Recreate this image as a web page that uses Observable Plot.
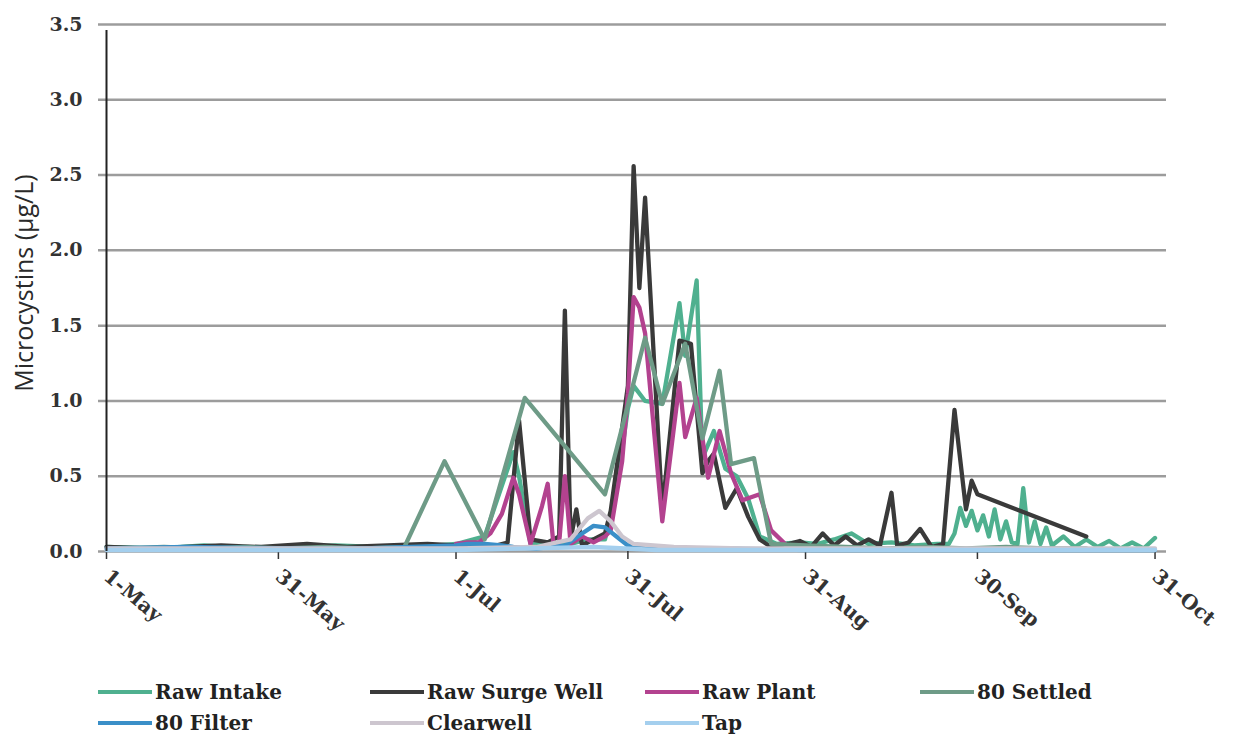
<!DOCTYPE html>
<html>
<head>
<meta charset="utf-8">
<script src="https://cdn.jsdelivr.net/npm/d3@7"></script>
<script src="https://cdn.jsdelivr.net/npm/@observablehq/plot@0.6"></script>
<style>
  body { margin: 0; background: #fff; }
  #wrap { position: relative; width: 1233px; height: 740px; overflow: hidden; }
  .legend {
    position: absolute; left: 98px; top: 676px;
    display: grid; grid-template-columns: 272px 275px 275px 275px;
    font-family: "DejaVu Serif", serif; font-size: 20px; font-weight: bold; color: #222;
  }
  .item { display: flex; align-items: center; height: 31px; white-space: nowrap; }
  .sw { width: 54px; height: 4px; margin-right: 3px; }
</style>
</head>
<body>
<div id="wrap"></div>
<script>
// Microcystin concentrations (µg/L) by sampling point, May–October
const year = 2014;
const seriesNames = ["Raw Intake", "Raw Surge Well", "Raw Plant", "80 Settled", "80 Filter", "Clearwell", "Tap"];
const seriesColors = ["#4fb08f", "#3a3a3a", "#b3428f", "#6e9b87", "#3a8fc8", "#cdc6cf", "#a4cfee"];

const rawIntake = [
  ["05-01", 0.03], ["05-10", 0.02], ["05-18", 0.04], ["05-26", 0.02], ["06-03", 0.03], ["06-10", 0.04],
  ["06-17", 0.03], ["06-24", 0.03], ["07-01", 0.05], ["07-06", 0.1], ["07-11", 0.66], ["07-12", 0.5],
  ["07-14", 0.05], ["07-17", 0.06], ["07-21", 0.05], ["07-24", 0.08], ["07-27", 0.08], ["07-29", 0.4],
  ["07-31", 0.95], ["08-01", 1.1], ["08-03", 1.0], ["08-06", 0.98], ["08-09", 1.65], ["08-10", 1.3],
  ["08-12", 1.8], ["08-13", 0.62], ["08-15", 0.8], ["08-17", 0.55], ["08-19", 0.5], ["08-21", 0.35],
  ["08-23", 0.1], ["08-26", 0.05], ["08-30", 0.06], ["09-02", 0.05], ["09-05", 0.08], ["09-08", 0.12],
  ["09-11", 0.05], ["09-15", 0.06], ["09-19", 0.04], ["09-23", 0.05], ["09-25", 0.05], ["09-26", 0.12],
  ["09-27", 0.29], ["09-28", 0.17], ["09-29", 0.27], ["09-30", 0.14], ["10-01", 0.24], ["10-02", 0.1],
  ["10-03", 0.28], ["10-04", 0.08], ["10-05", 0.2], ["10-06", 0.06], ["10-07", 0.05], ["10-08", 0.42],
  ["10-09", 0.06], ["10-10", 0.2], ["10-11", 0.05], ["10-12", 0.16], ["10-13", 0.04], ["10-15", 0.1],
  ["10-17", 0.03], ["10-19", 0.08], ["10-21", 0.03], ["10-23", 0.07], ["10-25", 0.02], ["10-27", 0.06],
  ["10-29", 0.02], ["10-31", 0.09]
];

const rawSurgeWell = [
  ["05-01", 0.03], ["05-08", 0.02], ["05-15", 0.03], ["05-21", 0.04], ["05-28", 0.03], ["06-05", 0.05],
  ["06-12", 0.03], ["06-19", 0.04], ["06-26", 0.05], ["07-01", 0.04], ["07-05", 0.03], ["07-08", 0.04],
  ["07-10", 0.06], ["07-12", 0.87], ["07-14", 0.08], ["07-17", 0.06], ["07-19", 0.1], ["07-20", 1.6],
  ["07-21", 0.08], ["07-22", 0.28], ["07-23", 0.04], ["07-25", 0.08], ["07-27", 0.12], ["07-28", 0.27],
  ["07-31", 1.1], ["08-01", 2.56], ["08-02", 1.75], ["08-03", 2.35], ["08-06", 0.27], ["08-09", 1.4],
  ["08-11", 1.38], ["08-13", 0.52], ["08-14", 0.6], ["08-15", 0.65], ["08-17", 0.29], ["08-19", 0.42],
  ["08-21", 0.23], ["08-23", 0.08], ["08-25", 0.03], ["08-28", 0.05], ["08-30", 0.07], ["09-01", 0.03],
  ["09-03", 0.12], ["09-05", 0.04], ["09-07", 0.1], ["09-09", 0.04], ["09-11", 0.08], ["09-13", 0.04],
  ["09-15", 0.39], ["09-16", 0.04], ["09-18", 0.06], ["09-20", 0.15], ["09-22", 0.03], ["09-24", 0.05],
  ["09-26", 0.94], ["09-28", 0.28], ["09-29", 0.47], ["09-30", 0.38], ["10-19", 0.1]
];

const rawPlant = [
  ["07-01", 0.05], ["07-03", 0.06], ["07-05", 0.06], ["07-07", 0.12], ["07-09", 0.25], ["07-11", 0.49],
  ["07-12", 0.38], ["07-14", 0.05], ["07-16", 0.3], ["07-17", 0.45], ["07-18", 0.05], ["07-19", 0.06],
  ["07-20", 0.5], ["07-21", 0.05], ["07-23", 0.1], ["07-25", 0.06], ["07-27", 0.1], ["07-28", 0.14],
  ["07-30", 0.6], ["07-31", 1.05], ["08-01", 1.69], ["08-02", 1.62], ["08-03", 1.45], ["08-06", 0.2],
  ["08-09", 1.12], ["08-10", 0.76], ["08-12", 1.02], ["08-14", 0.49], ["08-16", 0.8], ["08-18", 0.52],
  ["08-20", 0.34], ["08-23", 0.38], ["08-25", 0.14], ["08-28", 0.03], ["09-01", 0.02]
];

const settled80 = [
  ["05-04", 0.02], ["05-11", 0.03], ["05-18", 0.02], ["05-25", 0.03], ["06-01", 0.02], ["06-08", 0.03],
  ["06-15", 0.02], ["06-22", 0.03], ["06-29", 0.6], ["07-06", 0.08], ["07-13", 1.02], ["07-27", 0.38],
  ["08-03", 1.42], ["08-06", 0.98], ["08-10", 1.38], ["08-13", 0.75], ["08-16", 1.2], ["08-18", 0.58],
  ["08-22", 0.62], ["08-25", 0.05], ["08-31", 0.04], ["09-07", 0.03], ["09-14", 0.02], ["09-21", 0.03],
  ["09-28", 0.02], ["10-05", 0.03], ["10-12", 0.02], ["10-19", 0.02]
];

const filter80 = [
  ["05-01", 0.02], ["05-15", 0.03], ["06-01", 0.02], ["06-15", 0.02], ["07-01", 0.04], ["07-03", 0.05],
  ["07-06", 0.05], ["07-09", 0.04], ["07-11", 0.03], ["07-15", 0.02], ["07-20", 0.04], ["07-23", 0.12],
  ["07-25", 0.17], ["07-27", 0.16], ["07-29", 0.1], ["07-31", 0.04], ["08-05", 0.02], ["08-15", 0.02],
  ["09-01", 0.01], ["10-31", 0.01]
];

const clearwell = [
  ["05-01", 0.02], ["06-01", 0.02], ["07-01", 0.02], ["07-15", 0.03], ["07-21", 0.08], ["07-24", 0.22],
  ["07-26", 0.27], ["07-28", 0.2], ["07-30", 0.1], ["08-01", 0.05], ["08-08", 0.03], ["08-20", 0.02],
  ["09-15", 0.02], ["10-31", 0.02]
];

const tap = [
  ["05-01", 0.01], ["06-01", 0.01], ["07-01", 0.01], ["07-25", 0.03], ["08-05", 0.01], ["10-31", 0.01]
];

const yTicks = [0, 0.5, 1.0, 1.5, 2.0, 2.5, 3.0, 3.5];
const xTickLabels = ["05-01", "05-31", "07-01", "07-31", "08-31", "09-30", "10-31"];
const yLabel = "Microcystins (µg/L)";

const parse = d3.utcParse("%Y-%m-%d");
const toDate = (s) => parse(`${year}-${s}`);
const seriesValues = [rawIntake, rawSurgeWell, rawPlant, settled80, filter80, clearwell, tap];
const rows = seriesValues.map((arr, i) => arr.map(([d, v]) => ({series: seriesNames[i], date: toDate(d), value: v})));
const xTicks = xTickLabels.map(toDate);
const xStart = toDate("05-01");
const xEnd = toDate("11-02");

const serif = "'DejaVu Serif', serif";

const chart = Plot.plot({
  width: 1233,
  height: 660,
  marginLeft: 106,
  marginRight: 67,
  marginTop: 24,
  marginBottom: 109,
  style: {fontFamily: serif, background: "#fff"},
  x: {type: "utc", domain: [xStart, xEnd]},
  y: {domain: [0, 3.5]},
  color: {domain: seriesNames, range: seriesColors},
  marks: [
    Plot.ruleY(yTicks, {stroke: "#9c9c9c", strokeWidth: 2.5, insetLeft: -8}),
    Plot.axisY({ticks: yTicks, tickSize: 0, tickPadding: 24, tickFormat: d3.format(".1f"),
      fill: "#333", fontSize: 19, fontWeight: "bold", label: null}),
    Plot.text([yLabel], {frameAnchor: "left", textAnchor: "middle", dx: -82, dy: -5, rotate: -90,
      fontFamily: "'Open Sans', sans-serif", fontSize: 25, fill: "#2a2a2a"}),
    Plot.axisX({ticks: xTicks, tickFormat: d3.utcFormat("%-d-%b"), tickSize: 8, tickRotate: 40,
      tickPadding: 14, stroke: "#333", strokeWidth: 1.5, fill: "#333", fontSize: 20, fontWeight: "bold", label: null}),
    ...rows.map((data) => Plot.line(data, {x: "date", y: "value", stroke: "series",
      strokeWidth: 4.3, strokeLinejoin: "round", strokeLinecap: "round"})),
    Plot.ruleX([xStart], {y1: 0, y2: 3.5, stroke: "#222", strokeWidth: 2, insetBottom: -6})
  ]
});

const wrap = document.getElementById("wrap");
wrap.appendChild(chart);

const legend = document.createElement("div");
legend.className = "legend";
seriesNames.forEach((name, i) => {
  const item = document.createElement("div");
  item.className = "item";
  const sw = document.createElement("span");
  sw.className = "sw";
  sw.style.background = seriesColors[i];
  const label = document.createElement("span");
  label.textContent = name;
  item.append(sw, label);
  legend.appendChild(item);
});
wrap.appendChild(legend);
</script>
</body>
</html>
